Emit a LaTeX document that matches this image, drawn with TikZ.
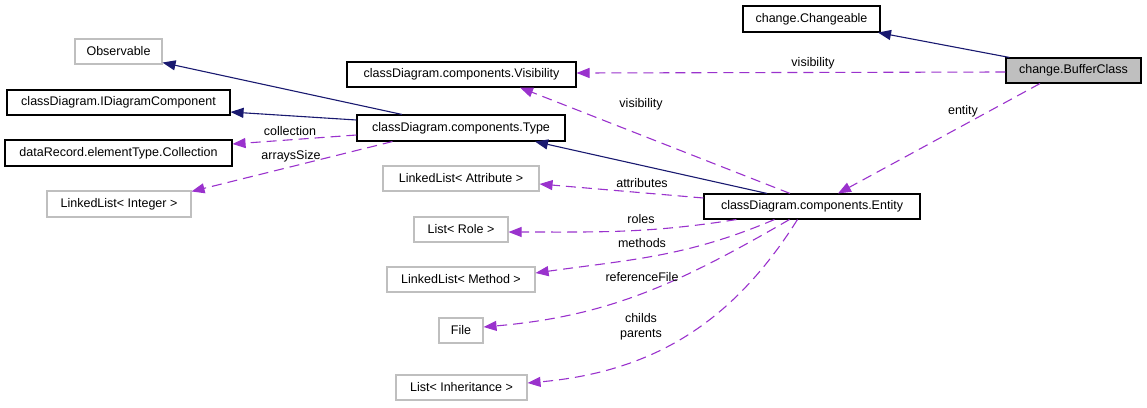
\documentclass[tikz,border=0pt]{standalone}
\usepackage{fontspec}
\setmainfont{Liberation Sans}
\usetikzlibrary{arrows.meta}
\definecolor{inhblue}{HTML}{191970}
\definecolor{usepurple}{HTML}{9A32CD}
\definecolor{boxgray}{HTML}{BFBFBF}
\begin{document}
\begin{tikzpicture}[x=1pt,y=-1pt,
  font=\fontsize{12.5}{15}\selectfont,
  cls/.style={draw=black, line width=1.1pt, inner sep=0pt, minimum height=25pt},
  ext/.style={draw=boxgray, line width=1.1pt, inner sep=0pt, minimum height=25pt},
  inh/.style={draw=inhblue, line width=1.1pt, -{Triangle[length=13pt,width=10pt]}},
  use/.style={draw=usepurple, line width=1.1pt, dash pattern=on 10pt off 6pt, -{Triangle[length=13pt,width=10pt]}},
  lbl/.style={inner sep=0pt}]
\useasboundingbox (0,0) rectangle (1147,407);
% nodes
\node[ext, minimum width=87pt] (obs) at (118.5,51.5) {Observable};
\node[cls, minimum width=223pt] (idc) at (118.5,102.5) {classDiagram.IDiagramComponent};
\node[cls, minimum width=227pt, minimum height=26pt] (coll) at (118.5,153) {dataRecord.elementType.Collection};
\node[ext, minimum width=144pt, minimum height=26pt] (lint) at (119,204) {LinkedList< Integer >};
\node[cls, minimum width=229pt] (vis) at (461.5,74.5) {classDiagram.components.Visibility};
\node[cls, minimum width=208pt, minimum height=26pt] (type) at (461,128) {classDiagram.components.Type};
\node[ext, minimum width=156pt] (lattr) at (461,178.5) {LinkedList< Attribute >};
\node[ext, minimum width=94pt] (role) at (461,229.5) {List< Role >};
\node[ext, minimum width=148pt] (meth) at (461,279.5) {LinkedList< Method >};
\node[ext, minimum width=44pt] (file) at (461,330.5) {File};
\node[ext, minimum width=131pt] (linh) at (461.5,387.5) {List< Inheritance >};
\node[cls, minimum width=137pt, minimum height=26pt] (chg) at (811.5,19) {change.Changeable};
\node[cls, fill=boxgray, minimum width=135pt] (buf) at (1073.5,70.5) {change.BufferClass};
\node[cls, minimum width=216pt] (ent) at (812,206.5) {classDiagram.components.Entity};
% inheritance
\draw[inh] ([xshift=4pt]buf.north west) -- ([xshift=66.5pt]chg.south);
\draw[inh] ([xshift=-45pt]ent.north) -- ([xshift=74pt]type.south);
\draw[inh] ([xshift=-59pt]type.north) -- ([yshift=2pt]obs.south east);
\draw[inh] ([yshift=8pt]type.west) -- ([yshift=-9.5pt]idc.east);
% usage
\draw[use] ([yshift=-1.5pt]buf.west) -- ([yshift=1.5pt]vis.east);
\draw[use] ([xshift=-33.5pt]buf.south) -- ([xshift=26pt]ent.north);
\draw[use] ([xshift=-22pt]ent.north) -- ([xshift=58.5pt]vis.south);
\draw[use] ([yshift=-7pt]type.west) -- ([yshift=9pt]coll.east);
\draw[use] ([xshift=36pt]type.south west) -- ([yshift=-1pt]lint.north east);
\draw[use] ([yshift=8.5pt]ent.west) -- ([yshift=-5.5pt]lattr.east);
\draw[use] ([xshift=33pt]ent.south west) .. controls +(-89,14) and +(90,0) .. ([yshift=-2.5pt]role.east);
\draw[use] ([xshift=71pt]ent.south west) .. controls +(-88.4,37.5) and +(95,-13.4) .. ([yshift=6.5pt]meth.east);
\draw[use] ([xshift=86pt]ent.south west) .. controls +(-110,63.5) and +(126.5,-11) .. ([yshift=3.5pt]file.east);
\draw[use] ([xshift=94pt]ent.south west) .. controls +(-66,105) and +(123.5,-11) .. ([yshift=4.5pt]linh.east);
% labels
\node[lbl] (lvis1) at (813,63) {visibility};
\node[lbl] (lent) at (963,111) {entity};
\node[lbl] (lvis2) at (641,104) {visibility};
\node[lbl] (lcoll) at (290,131) {collection};
\node[lbl] (larr) at (291,156) {arraysSize};
\node[lbl] (lattrs) at (642,183) {attributes};
\node[lbl] (lroles) at (641,219) {roles};
\node[lbl] (lmeth) at (642,243) {methods};
\node[lbl] (lref) at (642,277) {referenceFile};
\node[lbl, align=center] (lcp) at (641,326.5) {childs\\parents};
\end{tikzpicture}
\end{document}
